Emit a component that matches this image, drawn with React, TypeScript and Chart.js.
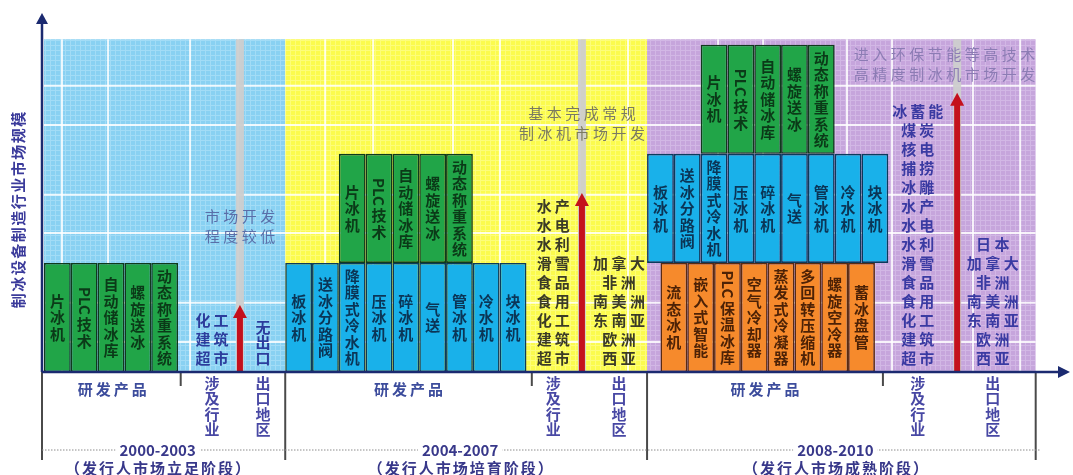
import React, { useEffect, useRef } from 'react';
import { Chart, registerables } from 'chart.js';

Chart.register(...registerables);

const FONT = '"Noto Sans CJK SC", "Noto Sans", sans-serif';

// ---------- text / categories ----------
const yAxisTitle = '制冰设备制造行业市场规模';
const periodLabels = ['2000-2003', '2004-2007', '2008-2010'];
const stageLabels = ['（发行人市场立足阶段）', '（发行人市场培育阶段）', '（发行人市场成熟阶段）'];
const productLabel = '研发产品';
const industryLabel = '涉及行业';
const regionLabel = '出口地区';

// ---------- product tiers ----------
const greenProducts = ['片冰机', 'PLC技术', '自动储冰库', '螺旋送冰', '动态称重系统'];
const blueProducts = ['板冰机', '送冰分路阀', '降膜式冷水机', '压冰机', '碎冰机', '气送', '管冰机', '冷水机', '块冰机'];
const orangeProducts = ['流态冰机', '嵌入式智能', 'PLC保温冰库', '空气冷却器', '蒸发式冷凝器', '多回转压缩机', '螺旋空冷器', '蓄冰盘管'];

// start column and tier level of each appearance (column units / tier units)
const greenStart = [0, 11, 24.5];
const greenLevel = [0, 1, 2];
const blueStart = [9, 22.5];
const blueLevel = [0, 1];
const orangeStart = [23];
const orangeLevel = [0];

// ---------- periods ----------
const periodEdges = [0, 9, 22.5, 37];
const productEnds = [5.1, 18.2, 31.3];
const panelTop = 3.05;

// ---------- industries / regions ----------
const industries1 = ['化工', '建筑', '超市'];
const industries2 = ['水产', '水电', '水利', '滑雪', '食品', '食用', '化工', '建筑', '超市'];
const industries3 = ['冰蓄能', '煤炭', '核电', '捕捞', '冰雕', '水产', '水电', '水利', '滑雪', '食品', '食用', '化工', '建筑', '超市'];
const regions1 = ['无出口'];
const regions2 = ['加拿大', '非洲', '南美洲', '东南亚', '欧洲', '西亚'];
const regions3 = ['日本', '加拿大', '非洲', '南美洲', '东南亚', '欧洲', '西亚'];
const industryX = [6.27, 19.0, 32.6];
const regionX = [8.17, 21.45, 35.4];

// ---------- market development ----------
const developX = [7.31, 20.07, 34.07];
const developLevel = [0.615, 1.64, 2.56];
const captions1 = ['市场开发', '程度较低'];
const captions2 = ['基本完成常规', '制冰机市场开发'];
const captions3 = ['进入环保节能等高技术', '高精度制冰机市场开发'];
const captionX = [7.31, 20.07, 33.6];
const captionLevel = [1.43, 2.37, 2.91];

// ---------- background grid ----------
const gridY = [0.275, 0.635, 1.275, 1.625, 2.265, 2.625];
const gridX = [0.67, 2.39, 5.45, 7.24, 10.49, 12.28, 15.26, 17.01, 20.0, 21.79, 25.15, 26.83, 29.96, 31.64, 34.66, 36.42];

// ---------- styles ----------
const panelStyles = [
  { base: '#89d1f2', line: '#a2dcf6' },
  { base: '#fbfb4e', line: '#fdfd7a' },
  { base: '#c6a5dc', line: '#d2b7e5' },
];
const captionColors = ['#5a6ea8', '#7a7a62', '#8c7cb4'];
const listColors = ['#2c3c9c', '#3b3b26', '#3a3aa2'];

function tier(names: string[], starts: number[], levels: number[]) {
  const pts: any[] = [];
  starts.forEach((s, k) => {
    names.forEach((n, i) => {
      pts.push({ x: s + i + 0.5, y: [levels[k], levels[k] + 1], name: n });
    });
  });
  return pts;
}

function makePattern(ctx: CanvasRenderingContext2D, base: string, line: string) {
  const c = document.createElement('canvas');
  c.width = 5;
  c.height = 5;
  const g = c.getContext('2d')!;
  g.fillStyle = base;
  g.fillRect(0, 0, 5, 5);
  g.fillStyle = line;
  g.fillRect(0, 0, 5, 1);
  g.fillRect(0, 0, 1, 5);
  return ctx.createPattern(c, 'repeat');
}

function spaced(ctx: CanvasRenderingContext2D, text: string, cx: number, cy: number, adv: number) {
  const chars = Array.from(text);
  const start = cx - ((chars.length - 1) * adv) / 2;
  chars.forEach((ch, i) => ctx.fillText(ch, start + i * adv, cy));
}

const latin = /^[A-Za-z0-9]{2,}$/;
function vertical(ctx: CanvasRenderingContext2D, text: string, cx: number, cy: number, adv: number) {
  const toks = text.match(/[A-Za-z0-9]+|[\s\S]/g) || [];
  const sizes = toks.map((t) => (latin.test(t) ? ctx.measureText(t).width + 3 : adv));
  const total = sizes.reduce((a, b) => a + b, 0);
  let yy = cy - total / 2;
  toks.forEach((t, i) => {
    const mid = yy + sizes[i] / 2;
    if (latin.test(t)) {
      ctx.save();
      ctx.translate(cx, mid);
      ctx.rotate(Math.PI / 2);
      ctx.fillText(t, 0, 0);
      ctx.restore();
    } else {
      ctx.fillText(t, cx, mid);
    }
    yy += sizes[i];
  });
}

const schemePlugin = {
  id: 'scheme',
  beforeDatasetsDraw(chart: any) {
    const { ctx, scales } = chart;
    const xs = scales.x;
    const ys = scales.y;
    const y0 = ys.getPixelForValue(0);
    const yT = ys.getPixelForValue(panelTop);
    const industries = [industries1, industries2, industries3];
    const regions = [regions1, regions2, regions3];
    const captions = [captions1, captions2, captions3];
    ctx.save();
    // panels
    for (let p = 0; p < 3; p++) {
      const a = xs.getPixelForValue(periodEdges[p]);
      const b = xs.getPixelForValue(periodEdges[p + 1]);
      ctx.fillStyle = makePattern(ctx, panelStyles[p].base, panelStyles[p].line) || panelStyles[p].base;
      ctx.fillRect(a, yT, b - a, y0 - yT);
    }
    // white grid lines
    const gx0 = xs.getPixelForValue(periodEdges[0]);
    const gx1 = xs.getPixelForValue(periodEdges[3]);
    ctx.strokeStyle = 'rgba(255,255,255,0.85)';
    ctx.lineWidth = 2;
    gridY.forEach((v) => {
      const py = ys.getPixelForValue(v);
      ctx.beginPath();
      ctx.moveTo(gx0, py);
      ctx.lineTo(gx1, py);
      ctx.stroke();
    });
    gridX.forEach((v) => {
      const px = xs.getPixelForValue(v);
      ctx.beginPath();
      ctx.moveTo(px, yT);
      ctx.lineTo(px, y0);
      ctx.stroke();
    });
    // gray tracks + red arrows
    for (let p = 0; p < 3; p++) {
      const cx = xs.getPixelForValue(developX[p]);
      ctx.fillStyle = 'rgba(206,206,206,0.95)';
      ctx.fillRect(cx - 4, yT, 8, y0 - yT);
      const tip = ys.getPixelForValue(developLevel[p]);
      ctx.fillStyle = '#c4101c';
      ctx.fillRect(cx - 3, tip + 11, 6, y0 - tip - 11);
      ctx.beginPath();
      ctx.moveTo(cx, tip);
      ctx.lineTo(cx - 7, tip + 13);
      ctx.lineTo(cx + 7, tip + 13);
      ctx.closePath();
      ctx.fill();
    }
    // captions
    ctx.textAlign = 'center';
    ctx.textBaseline = 'middle';
    for (let p = 0; p < 3; p++) {
      ctx.font = `15px ${FONT}`;
      ctx.fillStyle = captionColors[p];
      const cx = xs.getPixelForValue(captionX[p]);
      const cy = ys.getPixelForValue(captionLevel[p]);
      captions[p].forEach((line, i) => spaced(ctx, line, cx, cy + i * 20, 18.5));
    }
    // industries / regions
    for (let p = 0; p < 3; p++) {
      ctx.font = `bold 15px ${FONT}`;
      ctx.fillStyle = listColors[p];
      const ix = xs.getPixelForValue(industryX[p]);
      const rx = xs.getPixelForValue(regionX[p]);
      const ind = industries[p];
      ind.forEach((t, i) => spaced(ctx, t, ix, y0 - 14 - (ind.length - 1 - i) * 19, 18));
      const reg = regions[p];
      if (reg.length === 1) {
        const n = Array.from(reg[0]).length;
        vertical(ctx, reg[0], rx, y0 - 14 - ((n - 1) * 15.5) / 2, 15.5);
      } else {
        reg.forEach((t, i) => spaced(ctx, t, rx, y0 - 14 - (reg.length - 1 - i) * 19, 18.5));
      }
    }
    ctx.restore();
  },
  afterDatasetsDraw(chart: any) {
    const { ctx } = chart;
    ctx.save();
    ctx.textAlign = 'center';
    ctx.textBaseline = 'middle';
    ctx.font = `bold 15px ${FONT}`;
    chart.data.datasets.forEach((ds: any, di: number) => {
      const meta = chart.getDatasetMeta(di);
      ctx.fillStyle = ds.textColor;
      meta.data.forEach((el: any, i: number) => {
        const { x, y, base } = el.getProps(['x', 'y', 'base'], true);
        vertical(ctx, ds.data[i].name, x, (y + base) / 2, 16.5);
      });
    });
    ctx.restore();
  },
  afterDraw(chart: any) {
    const { ctx, scales, chartArea } = chart;
    const xs = scales.x;
    const ys = scales.y;
    const y0 = ys.getPixelForValue(0);
    const left = chartArea.left;
    ctx.save();
    // separators below axis
    ctx.strokeStyle = '#4a4a4a';
    ctx.lineWidth = 2;
    for (let p = 0; p < 4; p++) {
      const px = p === 0 ? left : xs.getPixelForValue(periodEdges[p]);
      ctx.beginPath();
      ctx.moveTo(px, y0);
      ctx.lineTo(px, y0 + 88);
      ctx.stroke();
    }
    productEnds.forEach((v) => {
      const px = xs.getPixelForValue(v);
      ctx.beginPath();
      ctx.moveTo(px, y0);
      ctx.lineTo(px, y0 + 14);
      ctx.stroke();
    });
    // dotted line
    ctx.strokeStyle = '#8c8c8c';
    ctx.lineWidth = 1;
    ctx.setLineDash([1.5, 1.5]);
    ctx.beginPath();
    ctx.moveTo(left, y0 + 78);
    ctx.lineTo(xs.getPixelForValue(periodEdges[3]) + 4, y0 + 78);
    ctx.stroke();
    ctx.setLineDash([]);
    // axes
    ctx.strokeStyle = '#1b2a70';
    ctx.fillStyle = '#1b2a70';
    ctx.lineWidth = 2.5;
    ctx.beginPath();
    ctx.moveTo(left, y0);
    ctx.lineTo(left, chartArea.top + 10);
    ctx.stroke();
    ctx.beginPath();
    ctx.moveTo(left, chartArea.top + 1);
    ctx.lineTo(left - 6, chartArea.top + 12);
    ctx.lineTo(left + 6, chartArea.top + 12);
    ctx.closePath();
    ctx.fill();
    ctx.beginPath();
    ctx.moveTo(left, y0);
    ctx.lineTo(chartArea.right - 10, y0);
    ctx.stroke();
    ctx.beginPath();
    ctx.moveTo(chartArea.right, y0);
    ctx.lineTo(chartArea.right - 12, y0 - 6);
    ctx.lineTo(chartArea.right - 12, y0 + 6);
    ctx.closePath();
    ctx.fill();
    // y title
    ctx.save();
    ctx.translate(left - 24, (chartArea.top + y0) / 2 + 18);
    ctx.rotate(-Math.PI / 2);
    ctx.textAlign = 'center';
    ctx.textBaseline = 'middle';
    ctx.font = `bold 15px ${FONT}`;
    ctx.fillStyle = '#3b3b9b';
    spaced(ctx, yAxisTitle, 0, 0, 16.5);
    ctx.restore();
    // bottom labels
    ctx.textAlign = 'center';
    ctx.textBaseline = 'middle';
    for (let p = 0; p < 3; p++) {
      const pStart = p === 0 ? left : xs.getPixelForValue(periodEdges[p]);
      const pEnd = xs.getPixelForValue(periodEdges[p + 1]);
      ctx.font = `bold 15px ${FONT}`;
      ctx.fillStyle = '#3c4c9c';
      const prodX = (xs.getPixelForValue(periodEdges[p]) + xs.getPixelForValue(productEnds[p])) / 2;
      spaced(ctx, productLabel, prodX, y0 + 17, 18);
      ctx.fillStyle = '#4848a4';
      const n = Array.from(industryLabel).length;
      vertical(ctx, industryLabel, xs.getPixelForValue(industryX[p]), y0 + 11 + ((n - 1) * 15.5) / 2, 15.5);
      vertical(ctx, regionLabel, xs.getPixelForValue(regionX[p]), y0 + 11 + ((n - 1) * 15.5) / 2, 15.5);
      const mid = (pStart + pEnd) / 2 - 6;
      ctx.font = `bold 15px ${FONT}`;
      const w = ctx.measureText(periodLabels[p]).width;
      ctx.fillStyle = '#ffffff';
      ctx.fillRect(mid - w / 2 - 4, y0 + 70, w + 8, 16);
      ctx.fillStyle = '#38388a';
      ctx.fillText(periodLabels[p], mid, y0 + 78);
      ctx.font = `bold 15px ${FONT}`;
      spaced(ctx, stageLabels[p], mid, y0 + 96, 17);
    }
    ctx.restore();
  },
};

export default function App() {
  const ref = useRef<HTMLCanvasElement | null>(null);
  useEffect(() => {
    if (!ref.current) return;
    const chart = new Chart(ref.current, {
      type: 'bar',
      data: {
        datasets: [
          {
            label: '研发产品（一）',
            data: tier(greenProducts, greenStart, greenLevel),
            backgroundColor: '#21a548',
            borderColor: '#0f3a1c',
            textColor: '#0b3a18',
          } as any,
          {
            label: '研发产品（二）',
            data: tier(blueProducts, blueStart, blueLevel),
            backgroundColor: '#19b1ea',
            borderColor: '#0b3a5c',
            textColor: '#0b3556',
          } as any,
          {
            label: '研发产品（三）',
            data: tier(orangeProducts, orangeStart, orangeLevel),
            backgroundColor: '#f68a2c',
            borderColor: '#5a2a10',
            textColor: '#4d2206',
          } as any,
        ],
      },
      options: {
        animation: false,
        responsive: false,
        events: [],
        layout: { padding: { left: 42, right: 3, top: 12, bottom: 103 } },
        datasets: {
          bar: {
            grouped: false,
            barPercentage: 2,
            categoryPercentage: 1,
            borderWidth: 1.6,
            borderSkipped: false,
          },
        } as any,
        plugins: { legend: { display: false }, tooltip: { enabled: false } },
        scales: {
          x: {
            type: 'linear',
            min: -0.075,
            max: 38.28,
            display: false,
            offset: false,
            ticks: { stepSize: 0.5, includeBounds: false },
          },
          y: { type: 'linear', min: 0, max: 3.3, display: false },
        },
      } as any,
      plugins: [schemePlugin],
    });
    return () => chart.destroy();
  }, []);
  return (
    <div style={{ position: 'fixed', left: 0, top: 0, width: 1073, height: 475, background: '#fff' }}>
      <canvas ref={ref} width={1073} height={475} style={{ width: 1073, height: 475, display: 'block' }} />
    </div>
  );
}
